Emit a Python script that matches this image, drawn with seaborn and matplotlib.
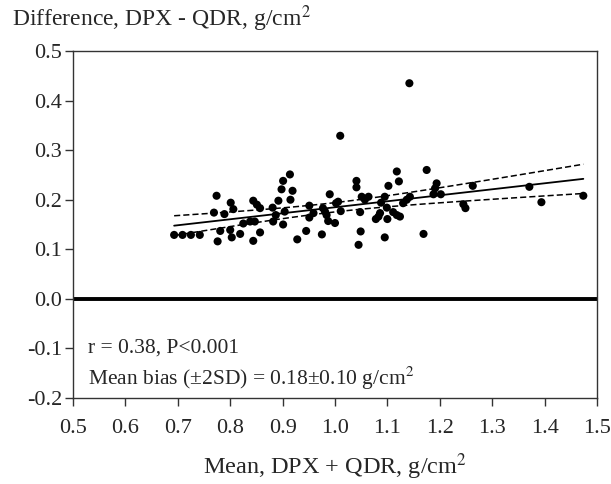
import numpy as np
import pandas as pd
import matplotlib
matplotlib.use("Agg")
import matplotlib.pyplot as plt
import seaborn as sns

# values
mean_bmd = [0.693, 0.709, 0.725, 0.742, 0.774, 0.769, 0.789, 0.781, 0.776, 0.801,
            0.806, 0.800, 0.803, 0.819, 0.825, 0.844, 0.851, 0.857, 0.838, 0.847,
            0.857, 0.844, 0.881, 0.892, 0.887, 0.882, 0.901, 0.898, 0.901, 0.914,
            0.919, 0.915, 0.904, 0.928, 0.945, 0.951, 0.951, 0.959, 0.975, 0.977,
            0.981, 0.984, 0.987, 0.990, 1.000, 1.002, 1.006, 1.011, 1.010, 1.041,
            1.041, 1.051, 1.064, 1.057, 1.048, 1.049, 1.045, 1.088, 1.095, 1.102,
            1.118, 1.122, 1.099, 1.086, 1.083, 1.078, 1.100, 1.111, 1.118, 1.124,
            1.095, 1.130, 1.137, 1.143, 1.142, 1.175, 1.169, 1.194, 1.191, 1.188,
            1.202, 1.245, 1.249, 1.263, 1.371, 1.394, 1.474]
diff_bmd = [0.129, 0.129, 0.129, 0.129, 0.208, 0.174, 0.171, 0.137, 0.116, 0.194,
            0.181, 0.139, 0.124, 0.131, 0.152, 0.198, 0.190, 0.183, 0.156, 0.156,
            0.134, 0.117, 0.184, 0.198, 0.169, 0.156, 0.150, 0.221, 0.238, 0.251,
            0.218, 0.200, 0.176, 0.120, 0.137, 0.188, 0.164, 0.173, 0.130, 0.183,
            0.176, 0.169, 0.157, 0.211, 0.153, 0.193, 0.196, 0.177, 0.329, 0.238,
            0.225, 0.206, 0.206, 0.200, 0.175, 0.136, 0.109, 0.194, 0.206, 0.228,
            0.257, 0.237, 0.184, 0.173, 0.166, 0.161, 0.161, 0.175, 0.169, 0.166,
            0.124, 0.193, 0.200, 0.206, 0.435, 0.260, 0.131, 0.233, 0.223, 0.211,
            0.211, 0.191, 0.183, 0.228, 0.226, 0.195, 0.208]

x_ticks = [0.5, 0.6, 0.7, 0.8, 0.9, 1.0, 1.1, 1.2, 1.3, 1.4, 1.5]
y_ticks = [-0.2, -0.1, 0.0, 0.1, 0.2, 0.3, 0.4, 0.5]

df = pd.DataFrame({"mean": mean_bmd, "diff": diff_bmd})

# least squares fit with 95% confidence band of the mean
x = df["mean"].to_numpy()
y = df["diff"].to_numpy()
n = len(x)
slope, intercept = np.polyfit(x, y, 1)
resid = y - (intercept + slope * x)
s = np.sqrt(np.sum(resid ** 2) / (n - 2))
xx = np.linspace(x.min(), x.max(), 100)
fit = intercept + slope * xx
se = s * np.sqrt(1 / n + (xx - x.mean()) ** 2 / np.sum((x - x.mean()) ** 2))
fit_df = pd.DataFrame({"x": xx, "fit": fit, "lo": fit - 1.99 * se, "hi": fit + 1.99 * se})

sns.set_style("ticks")
plt.rcParams["font.family"] = ["Liberation Serif", "DejaVu Serif"]
plt.rcParams["mathtext.fontset"] = "stix"

fig = plt.figure(figsize=(6.11, 4.84), dpi=100)
ax = fig.add_axes([0.1195, 0.1777, 0.8575, 0.7169])

ax.axhline(0, color="black", lw=2.8, zorder=1)
sns.lineplot(data=fit_df, x="x", y="fit", color="black", lw=1.3, ax=ax)
sns.lineplot(data=fit_df, x="x", y="hi", color="black", lw=1.1, ax=ax)
sns.lineplot(data=fit_df, x="x", y="lo", color="black", lw=1.1, ax=ax)
for line in ax.get_lines()[2:]:
    line.set_linestyle((0, (4, 2)))
sns.scatterplot(data=df, x="mean", y="diff", color="black", s=34, edgecolor="none",
                ax=ax, zorder=3)

ax.set_xlim(0.5, 1.5)
ax.set_ylim(-0.2, 0.5)
ax.set_xticks(x_ticks)
ax.set_yticks(y_ticks)
ax.set_xticklabels([f"{v:.1f}" for v in x_ticks])
ax.set_yticklabels([f"{v:.1f}" for v in y_ticks])
ax.tick_params(axis="both", labelsize=16, length=6, width=1, direction="out",
               color="#333333")
ax.tick_params(axis="x", pad=9)
ax.tick_params(axis="y", pad=2)
for sp in ax.spines.values():
    sp.set_visible(True)
    sp.set_linewidth(1.0)
    sp.set_color("#333333")

ax.set_xlabel("")
ax.set_ylabel("")
fig.text(0.548, 0.02, "Mean, DPX + QDR, g/cm$^2$", fontsize=17.5,
         ha="center", va="baseline")
fig.text(0.02, 0.962, "Difference, DPX - QDR, g/cm$^2$", fontsize=17,
         ha="left", va="center")

ax.text(0.529, -0.099, "r = 0.38, P<0.001", fontsize=15.5, va="center", ha="left")
ax.text(0.529, -0.161, "Mean bias (\u00b12SD) = 0.18\u00b10.10 g/cm$^2$", fontsize=15.5,
        va="center", ha="left")

fig.savefig("out.png", dpi=100)
plt.close(fig)
